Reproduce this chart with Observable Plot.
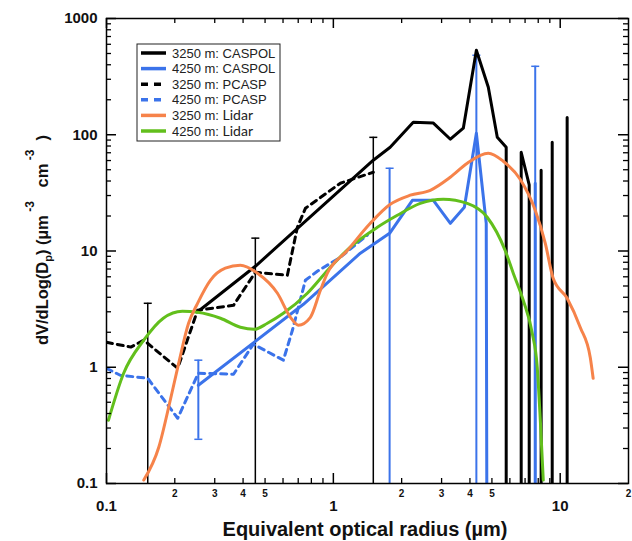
<!DOCTYPE html>
<html><head><meta charset="utf-8">
<script src="https://cdn.jsdelivr.net/npm/d3@7"></script>
<script src="https://cdn.jsdelivr.net/npm/@observablehq/plot@0.6"></script>
<style>
html,body{margin:0;padding:0;background:#fff;}
#chart svg{display:block;}
</style></head><body><div id="chart"></div>
<script>
// ---------- data ----------
const seriesNames = ["3250 m: CASPOL", "4250 m: CASPOL", "3250 m: PCASP", "4250 m: PCASP", "3250 m: Lidar", "4250 m: Lidar"];

const caspol3250X = [0.254, 0.453, 1.50, 1.78, 2.25, 2.76, 3.28, 3.74, 4.27, 4.82, 5.28, 5.78, 5.78, 6.73, 6.73, 7.30, 7.30, 8.24, 8.24, 8.24, 9.22, 9.22, 9.22, 10.73, 10.73, 10.73];
const caspol3250Y = [3.03, 7.39, 60.4, 78, 128, 126, 91.5, 114, 533, 256, 95, 78, 0, 0, 70.7, 37, 0, 0, 49.5, 0, 0, 86, 0, 0, 141, 0];

const caspol4250X = [0.254, 0.738, 1.315, 1.77, 2.23, 2.76, 3.28, 3.78, 4.27, 4.72, 4.77, 7.76, 7.76, 7.76];
const caspol4250Y = [0.70, 3.48, 9.57, 14.2, 27.3, 27.3, 17.3, 23.8, 103, 17.3, 0, 0, 38.3, 0];

const pcasp3250X = [0.100, 0.128, 0.146, 0.206, 0.252, 0.363, 0.453, 0.627, 0.694, 0.753, 1.074, 1.50];
const pcasp3250Y = [1.64, 1.49, 1.71, 0.98, 3.09, 3.41, 6.56, 6.18, 16.0, 23.3, 38.3, 47.6];

const pcasp4250X = [0.100, 0.115, 0.152, 0.206, 0.254, 0.363, 0.444, 0.602, 0.660, 0.753, 0.850, 1.074, 1.412];
const pcasp4250Y = [0.98, 0.853, 0.804, 0.364, 0.888, 0.871, 1.58, 1.15, 2.08, 5.60, 6.70, 8.83, 13.7];

const lidar3250X = [0.146, 0.170, 0.191, 0.208, 0.230, 0.252, 0.287, 0.334, 0.389, 0.463, 0.567, 0.647, 0.701, 0.792, 0.877, 0.941, 1.153, 1.455, 1.782, 2.183, 2.675, 3.276, 3.893, 4.816, 5.61, 6.66, 7.76, 8.59, 9.31, 10.73, 12.25, 13.56, 13.97];
const lidar3250Y = [0.107, 0.205, 0.520, 1.08, 2.39, 3.55, 5.60, 7.11, 7.54, 6.44, 4.33, 2.69, 2.30, 2.69, 4.59, 6.44, 10.1, 17.3, 25.2, 30.2, 33.3, 43.1, 56.9, 69.3, 59.2, 41.4, 22.4, 11.7, 5.83, 3.92, 2.21, 1.22, 0.804];

const lidar4250X = [0.102, 0.119, 0.146, 0.178, 0.216, 0.252, 0.318, 0.389, 0.449, 0.512, 0.602, 0.768, 0.970, 1.188, 1.563, 1.914, 2.416, 3.052, 3.893, 4.767, 5.72, 6.21, 6.87, 7.53, 7.92, 8.16, 8.42];
const lidar4250Y = [0.350, 0.888, 1.71, 2.64, 3.03, 2.97, 2.64, 2.21, 2.12, 2.39, 2.91, 4.33, 7.25, 10.8, 16.0, 20.3, 25.7, 27.9, 25.7, 19.5, 10.1, 6.44, 3.77, 1.96, 1.0, 0.371, 0.107];

// error bars: series index, x, lower, upper (0 = below the axis)
const errSeries = [2, 0, 0, 1, 1, 1, 1];
const errX  = [0.152, 0.453, 1.50, 0.254, 1.77, 4.27, 7.76];
const errLo = [0, 0, 0, 0.24, 0, 0, 0];
const errHi = [3.55, 12.9, 95, 1.15, 51.5, 483, 388];

// axis ticks and labels
const xMajorTicks = [0.1, 1, 10];
const xMinorTicks = [0.2, 0.3, 0.4, 0.5, 0.6, 0.7, 0.8, 0.9, 2, 3, 4, 5, 6, 7, 8, 9];
const xMinorLabelTicks = [0.2, 0.3, 0.4, 0.5, 0.6, 0.7, 0.8, 0.9, 2, 3, 4, 5, 6, 7, 8, 9, 20];
const yMajorTicks = [0.1, 1, 10, 100, 1000];
const yMinorTicks = [0.2,0.3,0.4,0.5,0.6,0.7,0.8,0.9, 2,3,4,5,6,7,8,9, 20,30,40,50,60,70,80,90, 200,300,400,500,600,700,800,900];

// ---------- styles ----------
const seriesColors = ["#000000", "#3b73ea", "#000000", "#3b73ea", "#f6834a", "#62bf1c"];
const seriesDash = [null, null, "6,5", "6,5", null, null];
const FLOOR = 1e-3; // zero bins drawn far below the axis and clipped

const W = 632, H = 541, ML = 106, MR = 4, MT = 18, MB = 58;
const PW = W - ML - MR, PH = H - MT - MB;
const FONT = "'Liberation Sans', Arial, Helvetica, sans-serif";

const table = (xs, ys) => xs.map((x, i) => ({x, y: ys[i]}));
const yv = d => d.y > 0 ? d.y : FLOOR;
const lineData = [
  table(caspol3250X, caspol3250Y),
  table(caspol4250X, caspol4250Y),
  table(pcasp3250X, pcasp3250Y),
  table(pcasp4250X, pcasp4250Y),
  table(lidar3250X, lidar3250Y),
  table(lidar4250X, lidar4250Y)
];
const errData = errX.map((x, i) => ({x, lo: errLo[i], hi: errHi[i], s: errSeries[i]}));
const capData = [
  ...errData.map(d => ({x: d.x, y: d.hi, s: d.s})),
  ...errData.filter(d => d.lo > 0).map(d => ({x: d.x, y: d.lo, s: d.s}))
];
const capSymbol = {draw(ctx, size) { const r = Math.sqrt(size / Math.PI); ctx.moveTo(-r, 0); ctx.lineTo(r, 0); }};

function lineMark(i, extra = {}) {
  return Plot.line(lineData[i], {
    x: "x", y: yv, stroke: seriesColors[i], strokeWidth: 3,
    strokeDasharray: seriesDash[i] ?? undefined, clip: true, ...extra
  });
}

const digit = d => String(Math.round(d / 10 ** Math.floor(Math.log10(d) + 1e-9)));

const chart = Plot.plot({
  width: W, height: H,
  marginLeft: ML, marginRight: MR, marginTop: MT, marginBottom: MB,
  style: {fontFamily: FONT, background: "white", overflow: "visible"},
  x: {type: "log", domain: [0.1, 20]},
  y: {type: "log", domain: [0.1, 1000]},
  marks: [
    // error bars
    Plot.ruleX(errData, {x: "x", y1: d => d.lo > 0 ? d.lo : FLOOR, y2: "hi", stroke: d => seriesColors[d.s], strokeWidth: d => d.s === 1 ? 2 : 1.5, clip: true}),
    Plot.dot(capData, {x: "x", y: "y", symbol: capSymbol, r: 4, fill: "none", stroke: d => seriesColors[d.s], strokeWidth: 1.5}),
    // data lines
    lineMark(0),
    lineMark(1),
    lineMark(2),
    lineMark(3),
    lineMark(5, {curve: "monotone-x"}),
    lineMark(4, {curve: "monotone-x"}),
    // inward ticks on all four sides
    Plot.ruleX(xMinorTicks, {insetTop: PH - 5, stroke: "black", strokeWidth: 1.3}),
    Plot.ruleX(xMinorTicks, {insetBottom: PH - 5, stroke: "black", strokeWidth: 1.3}),
    Plot.ruleX(xMajorTicks, {insetTop: PH - 10, stroke: "black", strokeWidth: 1.5}),
    Plot.ruleX(xMajorTicks, {insetBottom: PH - 10, stroke: "black", strokeWidth: 1.5}),
    Plot.ruleY(yMinorTicks, {insetRight: PW - 5, stroke: "black", strokeWidth: 1.3}),
    Plot.ruleY(yMinorTicks, {insetLeft: PW - 5, stroke: "black", strokeWidth: 1.3}),
    Plot.ruleY(yMajorTicks, {insetRight: PW - 10, stroke: "black", strokeWidth: 1.5}),
    Plot.ruleY(yMajorTicks, {insetLeft: PW - 10, stroke: "black", strokeWidth: 1.5}),
    Plot.frame({stroke: "black", strokeWidth: 1.5}),
    // tick labels
    Plot.axisY({ticks: yMajorTicks, tickSize: 0, tickPadding: 9, tickFormat: d => String(d), fontSize: 15, fontWeight: "bold", label: null, fill: "#111"}),
    Plot.axisX({ticks: xMinorLabelTicks, tickSize: 0, tickPadding: 6, tickFormat: digit, fontSize: 10, fontWeight: "bold", label: null, fill: "#111"}),
    Plot.axisX({ticks: xMajorTicks, tickSize: 0, tickPadding: 17, tickFormat: d => String(d), fontSize: 15, fontWeight: "bold", label: null, fill: "#111"})
  ]
});
document.getElementById("chart").appendChild(chart);

// ---------- axis titles and legend ----------
const svg = d3.select(chart);
svg.append("text")
  .attr("x", ML + PW / 2 - 2).attr("y", 536)
  .attr("text-anchor", "middle")
  .style("font", `bold 20px ${FONT}`).attr("fill", "#111")
  .text("Equivalent optical radius (µm)");

const yt = svg.append("text")
  .attr("transform", `translate(48, 240) rotate(-90)`)
  .attr("text-anchor", "middle")
  .style("font", `bold 16.5px ${FONT}`).style("white-space", "pre").attr("fill", "#111");
yt.append("tspan").text("dV/dLog(D");
yt.append("tspan").attr("dy", 4).style("font-size", "11px").text("p");
yt.append("tspan").attr("dy", -4).text(") (µm");
yt.append("tspan").attr("dy", -14).style("font-size", "12px").text(" -3");
yt.append("tspan").attr("dy", 14).text("   cm");
yt.append("tspan").attr("dy", -14).style("font-size", "12px").text(" -3");
yt.append("tspan").attr("dy", 14).text("  )");

const lg = svg.append("g").attr("transform", "translate(137,44)");
lg.append("rect").attr("width", 143).attr("height", 97).attr("fill", "white").attr("stroke", "#222").attr("stroke-width", 1);
seriesNames.forEach((name, i) => {
  const yy = 9 + i * 15.6;
  lg.append("line").attr("x1", 4).attr("x2", 29).attr("y1", yy).attr("y2", yy)
    .attr("stroke", seriesColors[i]).attr("stroke-width", 3.5)
    .attr("stroke-dasharray", seriesDash[i] ? "7,6" : null);
  const [pre, post] = [name.slice(0, name.indexOf(":") + 1), name.slice(name.indexOf(":") + 1)];
  const t = lg.append("text").attr("x", 35).attr("y", yy + 4.6).attr("text-anchor", "start")
    .style("font", `13px ${FONT}`).style("white-space", "pre").attr("fill", "#222");
  t.append("tspan").text(pre);
  if (post.includes("Lidar")) t.append("tspan").style("font-family", "Lato, 'Open Sans', sans-serif").style("font-size", "14px").text(post);
  else t.append("tspan").text(post);
});
</script>
</body></html>
